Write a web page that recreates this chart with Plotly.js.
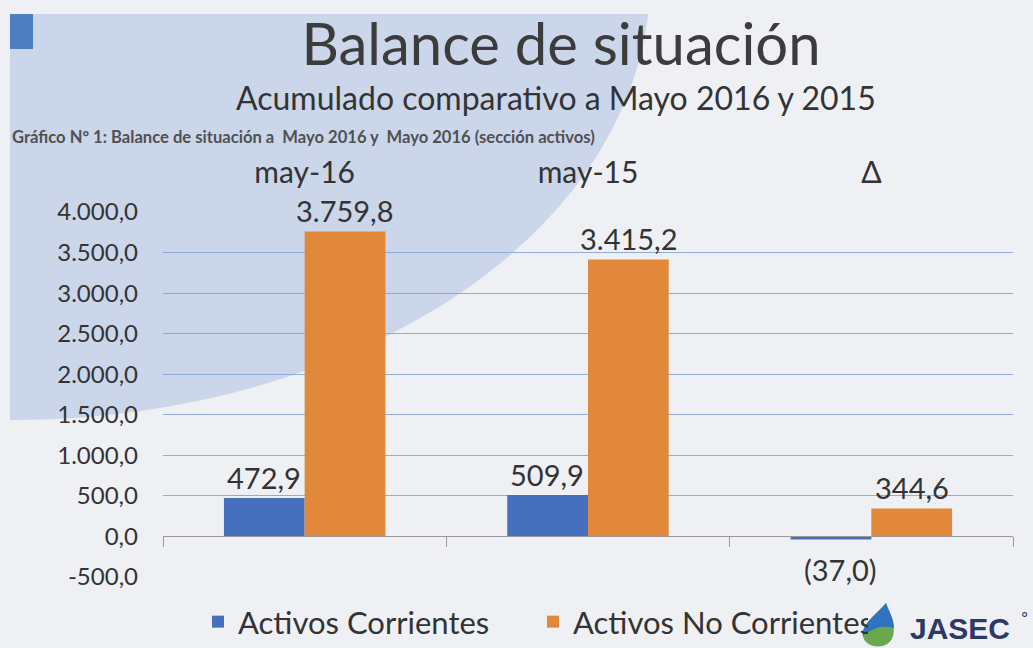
<!DOCTYPE html>
<html>
<head>
<meta charset="utf-8">
<script src="https://cdn.plot.ly/plotly-3.0.1.min.js"></script>
<style>html,body{margin:0;padding:0;background:#eef0f4;}#chart{width:1033px;height:648px;}</style>
</head>
<body>
<div id="chart"></div>
<script>
// ---- data ----
const categories = ['may-16', 'may-15', 'Δ'];
const activosCorrientes = [472.9, 509.9, -37.0];
const activosNoCorrientes = [3759.8, 3415.2, 344.6];
const seriesNames = ['Activos Corrientes', 'Activos No Corrientes'];
const tickVals = [-500, 0, 500, 1000, 1500, 2000, 2500, 3000, 3500, 4000];
const tickText = ['-500,0', '0,0', '500,0', '1.000,0', '1.500,0', '2.000,0', '2.500,0', '3.000,0', '3.500,0', '4.000,0'];

const titleText = 'Balance de situación';
const subtitleText = 'Acumulado comparativo a Mayo 2016 y 2015';
const captionText = 'Gráfico Nº 1: Balance de situación a  Mayo 2016 y  Mayo 2016 (sección activos)';

// ---- styling ----
const FONT = 'Lato, "Open Sans", sans-serif';
const TXT = '#333333';
const BLUE = '#4670bd';
const ORANGE = '#e2883b';
const BG = '#eef0f4';

// plot area in pixels (for decorations)
const L = 163, R = 1013, T = 212, B = 577;
const px = X => (X - L) / (R - L);
const py = Y => (B - Y) / (B - T);

function fmt(v) {
  const s = Math.abs(v).toFixed(1).split('.');
  const intp = s[0].replace(/\B(?=(\d{3})+(?!\d))/g, '.');
  const out = intp + ',' + s[1];
  return v < 0 ? '(' + out + ')' : out;
}

const barOffset = 0.143;
const annotations = [];
[activosCorrientes, activosNoCorrientes].forEach((arr, si) => {
  arr.forEach((v, i) => {
    annotations.push({
      x: i + (si === 0 ? -barOffset : barOffset), xref: 'x', y: v, yref: 'y',
      text: fmt(v), showarrow: false,
      yanchor: v < 0 ? 'top' : 'bottom',
      yshift: v < 0 ? -11 : 1,
      xshift: v < 0 ? 10 : 0,
      font: {family: FONT, size: 29, color: TXT}
    });
  });
});
annotations.push({
  xref: 'paper', yref: 'paper', x: px(556), y: py(98), text: subtitleText, showarrow: false,
  xanchor: 'center', yanchor: 'middle', font: {family: FONT, size: 32, color: TXT}
});
annotations.push({
  xref: 'paper', yref: 'paper', x: px(10), y: py(137), text: '<b>' + captionText + '</b>', showarrow: false,
  xanchor: 'left', yanchor: 'middle', font: {family: FONT, size: 16.6, color: '#505050'}
});
annotations.push({
  xref: 'paper', yref: 'paper', x: px(960), y: py(628), text: '<b>JASEC</b>', showarrow: false,
  xanchor: 'center', yanchor: 'middle', font: {family: '"Liberation Sans", Arial, sans-serif', size: 30, color: '#2d3868'}
});
annotations.push({
  xref: 'paper', yref: 'paper', x: px(1024), y: py(619), text: '°', showarrow: false,
  xanchor: 'center', yanchor: 'middle', font: {family: '"Liberation Sans", Arial, sans-serif', size: 18, color: '#2d3868'}
});

function P(X, Y) { return px(X).toFixed(4) + ',' + py(Y).toFixed(4); }

const shapes = [
  // light blue background disc
  {type: 'circle', xref: 'paper', yref: 'paper', layer: 'below',
   x0: px(-625), x1: px(650), y0: py(420), y1: py(-460),
   fillcolor: '#ccd6eb', line: {width: 0}},
  {type: 'rect', xref: 'paper', yref: 'paper', layer: 'below',
   x0: px(-5), x1: px(10), y0: py(660), y1: py(-10), fillcolor: BG, line: {width: 0}},
  {type: 'rect', xref: 'paper', yref: 'paper', layer: 'below',
   x0: px(-5), x1: px(1040), y0: py(14), y1: py(-10), fillcolor: BG, line: {width: 0}},
  {type: 'rect', xref: 'paper', yref: 'paper', layer: 'below',
   x0: px(10), x1: px(33), y0: py(49), y1: py(14), fillcolor: '#4f7dc2', line: {width: 0}},
  // logo drop
  {type: 'path', xref: 'paper', yref: 'paper', layer: 'above',
   path: 'M' + P(886, 603) + ' C' + P(878, 613) + ' ' + P(861, 624) + ' ' + P(863, 636) +
         ' C' + P(865, 649) + ' ' + P(889, 651) + ' ' + P(893, 636) +
         ' C' + P(896, 624) + ' ' + P(889, 613) + ' ' + P(886, 603) + ' Z',
   fillcolor: '#6aa84f', line: {width: 0}},
  {type: 'path', xref: 'paper', yref: 'paper', layer: 'above',
   path: 'M' + P(886, 603) + ' C' + P(878, 613) + ' ' + P(861, 624) + ' ' + P(863, 636) +
         ' C' + P(872, 628) + ' ' + P(884, 625) + ' ' + P(894, 628) +
         ' C' + P(894, 618) + ' ' + P(889, 612) + ' ' + P(886, 603) + ' Z',
   fillcolor: '#2f72c0', line: {width: 0}}
];

const traces = [
  {type: 'bar', name: seriesNames[0], x: categories, y: activosCorrientes,
   marker: {color: BLUE}, hoverinfo: 'skip'},
  {type: 'bar', name: seriesNames[1], x: categories, y: activosNoCorrientes,
   marker: {color: ORANGE}, hoverinfo: 'skip'},
  {type: 'scatter', mode: 'markers', x: categories, y: [null, null, null], xaxis: 'x2',
   showlegend: false, hoverinfo: 'skip'}
];

const layout = {
  width: 1033, height: 648,
  paper_bgcolor: BG, plot_bgcolor: 'rgba(0,0,0,0)',
  margin: {l: L, r: 1033 - R, t: T, b: 648 - B, autoexpand: false},
  separators: ',.',
  title: {text: titleText, x: 561 / 1033, xanchor: 'center',
          y: 1 - 45 / 648, yanchor: 'middle', yref: 'container',
          font: {family: FONT, size: 58, color: '#3c3c3c'}},
  barmode: 'group', bargap: 0.43, bargroupgap: 0,
  xaxis: {type: 'category', side: 'top', range: [-0.5, 2.5], showgrid: false, showline: false,
          zeroline: false, ticks: '', ticklabelstandoff: 22,
          tickfont: {family: FONT, size: 30, color: TXT}},
  xaxis2: {type: 'category', overlaying: 'x', anchor: 'free', position: py(536),
           range: [-0.5, 2.5], showline: true, linecolor: '#9a9a9a', linewidth: 1,
           ticks: 'outside', tickson: 'boundaries', ticklen: 10, tickcolor: '#9a9a9a',
           showticklabels: false, showgrid: false, zeroline: false},
  yaxis: {range: [-500, 4000], tickvals: tickVals, ticktext: tickText,
          showgrid: true, gridcolor: '#92abdb', gridwidth: 1, zeroline: false,
          showline: false, ticks: '', ticklabelstandoff: 24,
          tickfont: {family: FONT, size: 24, color: TXT}},
  legend: {orientation: 'h', x: px(198), xanchor: 'left', y: py(622), yanchor: 'middle',
           entrywidth: 290, entrywidthmode: 'pixels',
           font: {family: FONT, size: 31, color: TXT}, bgcolor: 'rgba(0,0,0,0)'},
  annotations: annotations,
  shapes: shapes
};

Plotly.newPlot('chart', traces, layout, {displayModeBar: false, staticPlot: true});
</script>
</body>
</html>
